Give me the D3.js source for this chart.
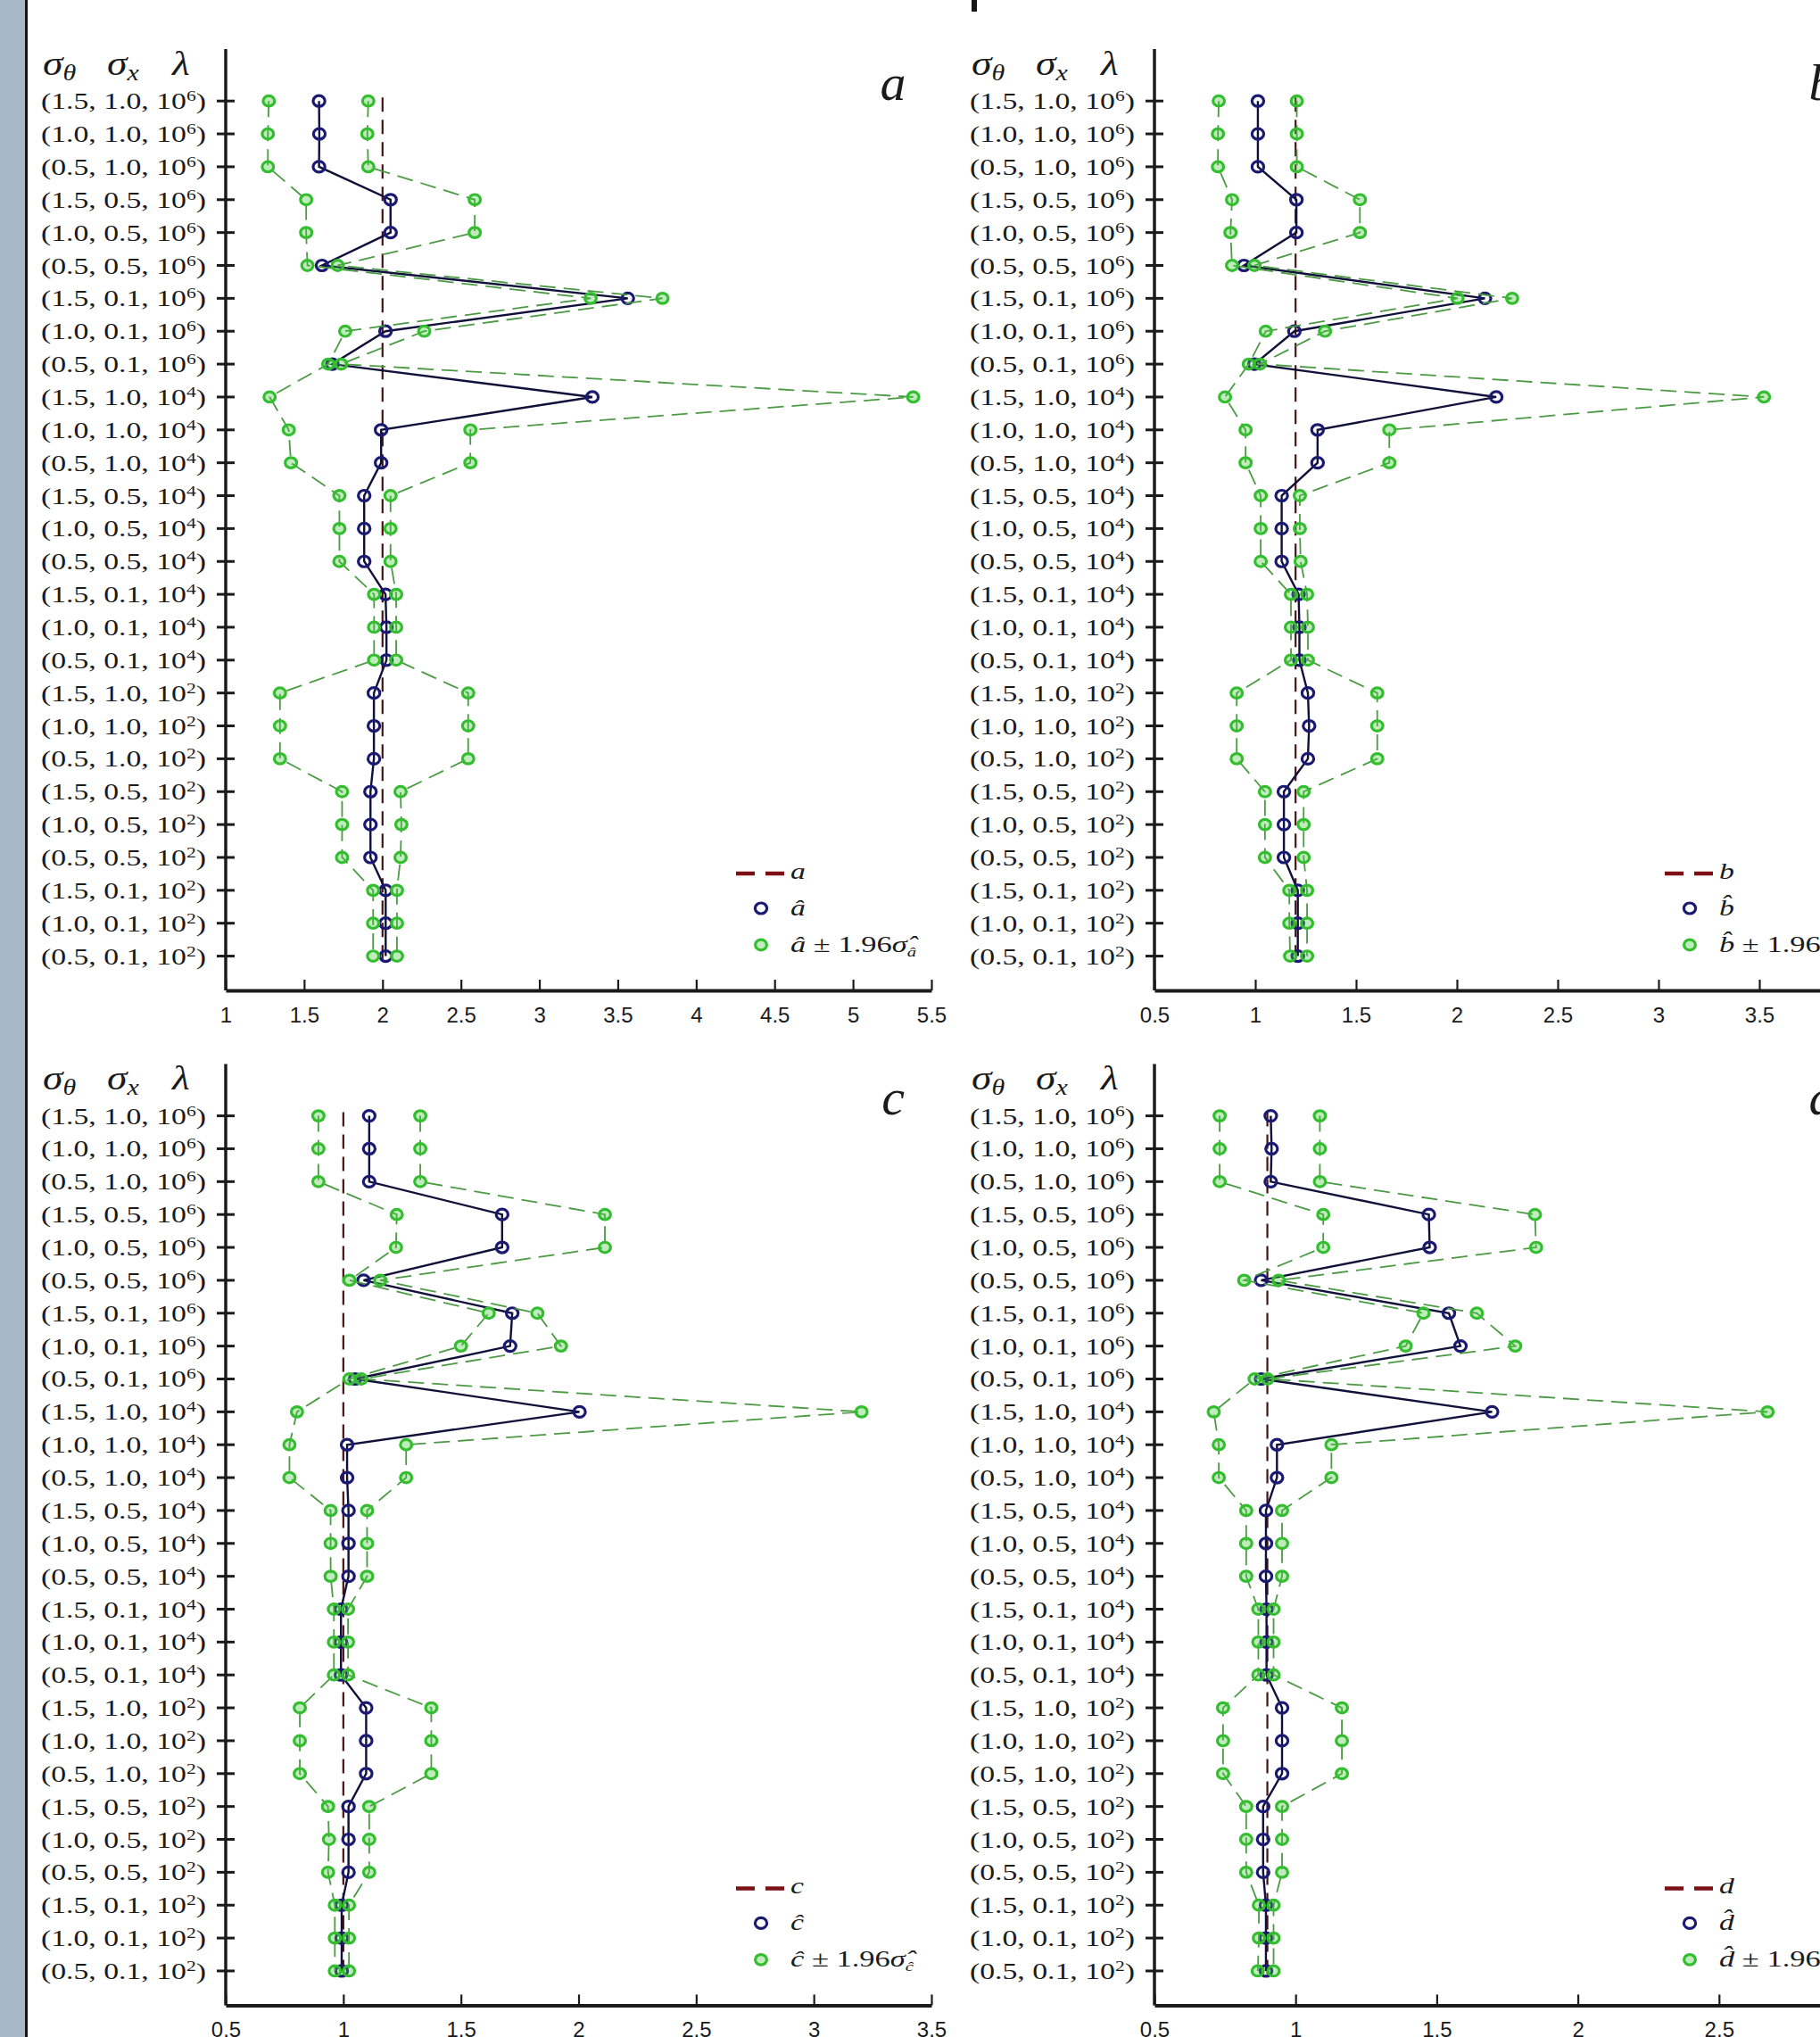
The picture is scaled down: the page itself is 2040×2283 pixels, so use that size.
<!DOCTYPE html>
<html><head><meta charset="utf-8">
<script src="https://cdn.jsdelivr.net/npm/d3@7"></script>
<style>
html,body{margin:0;padding:0;background:#fff;overflow:hidden}
svg{display:block}
</style></head>
<body>
<svg id="chart" width="2040" height="2283"></svg>
<script>
// ---------- categories (rows, top to bottom) ----------
const rowSigmaTheta = ["1.5","1.0","0.5","1.5","1.0","0.5","1.5","1.0","0.5",
                       "1.5","1.0","0.5","1.5","1.0","0.5","1.5","1.0","0.5",
                       "1.5","1.0","0.5","1.5","1.0","0.5","1.5","1.0","0.5"];
const rowSigmaX = ["1.0","1.0","1.0","0.5","0.5","0.5","0.1","0.1","0.1",
                   "1.0","1.0","1.0","0.5","0.5","0.5","0.1","0.1","0.1",
                   "1.0","1.0","1.0","0.5","0.5","0.5","0.1","0.1","0.1"];
const rowLambdaExp = ["6","6","6","6","6","6","6","6","6",
                      "4","4","4","4","4","4","4","4","4",
                      "2","2","2","2","2","2","2","2","2"];

// ---------- panel a ----------
const aTrue = 2;
const aHat  = [1.595,1.597,1.595,2.051,2.051,1.614,3.564,2.019,1.680,3.338,1.991,1.991,1.883,1.883,1.883,2.019,2.025,2.025,1.945,1.945,1.945,1.923,1.923,1.923,2.020,2.020,2.020];
const aLow  = [1.275,1.269,1.269,1.513,1.513,1.521,3.327,1.762,1.654,1.280,1.402,1.416,1.725,1.725,1.725,1.946,1.946,1.946,1.346,1.346,1.346,1.742,1.742,1.742,1.940,1.940,1.940];
const aHigh = [1.909,1.903,1.909,2.588,2.588,1.714,3.785,2.266,1.736,5.384,2.560,2.560,2.051,2.051,2.051,2.087,2.087,2.087,2.546,2.546,2.546,2.115,2.120,2.115,2.092,2.092,2.092];
const aTicks = [1,1.5,2,2.5,3,3.5,4,4.5,5,5.5];

// ---------- panel b ----------
const bTrue = 1.2;
const bHat  = [1.013,1.013,1.013,1.204,1.204,0.944,2.139,1.194,0.996,2.195,1.309,1.309,1.131,1.131,1.131,1.215,1.219,1.219,1.261,1.267,1.261,1.142,1.142,1.142,1.211,1.211,1.211];
const bLow  = [0.819,0.815,0.815,0.885,0.877,0.885,2.003,1.052,0.968,0.850,0.952,0.952,1.027,1.027,1.027,1.177,1.177,1.177,0.908,0.908,0.908,1.048,1.048,1.048,1.169,1.169,1.173];
const bHigh = [1.206,1.206,1.206,1.519,1.519,0.996,2.274,1.346,1.023,3.523,1.665,1.665,1.221,1.221,1.225,1.257,1.261,1.261,1.605,1.605,1.605,1.240,1.240,1.240,1.257,1.257,1.257];
const bTicks = [0.5,1,1.5,2,2.5,3,3.5,4];

// ---------- panel c ----------
const cTrue = 1;
const cHat  = [1.110,1.110,1.110,1.675,1.675,1.086,1.718,1.709,1.050,2.004,1.016,1.016,1.022,1.022,1.022,0.990,0.990,0.990,1.097,1.097,1.097,1.022,1.022,1.022,0.993,0.993,0.993];
const cLow  = [0.894,0.894,0.894,1.227,1.224,1.026,1.618,1.500,1.026,0.803,0.771,0.771,0.946,0.946,0.946,0.960,0.960,0.960,0.815,0.815,0.815,0.935,0.939,0.935,0.964,0.964,0.964];
const cHigh = [1.327,1.327,1.327,2.112,2.112,1.157,1.825,1.925,1.076,3.203,1.267,1.267,1.101,1.101,1.101,1.020,1.020,1.020,1.374,1.374,1.374,1.110,1.110,1.110,1.024,1.024,1.024];
const cTicks = [0.5,1,1.5,2,2.5,3,3.5];

// ---------- panel d ----------
const dTrue = 0.9;
const dHat  = [0.912,0.915,0.912,1.472,1.475,0.878,1.543,1.584,0.878,1.696,0.934,0.934,0.895,0.895,0.895,0.897,0.897,0.897,0.952,0.952,0.952,0.885,0.885,0.885,0.895,0.895,0.895];
const dLow  = [0.731,0.731,0.731,1.098,1.098,0.818,1.453,1.390,0.855,0.710,0.728,0.728,0.825,0.825,0.825,0.868,0.868,0.868,0.743,0.743,0.743,0.825,0.825,0.825,0.870,0.870,0.866];
const dHigh = [1.086,1.086,1.086,1.848,1.852,0.940,1.642,1.778,0.901,2.672,1.127,1.127,0.952,0.952,0.952,0.922,0.922,0.922,1.164,1.164,1.164,0.952,0.952,0.952,0.922,0.922,0.922];
const dTicks = [0.5,1,1.5,2,2.5,3];

const panelSymbols = ["a","b","c","d"];
const panelHats = ["\u00e2","b\u0302","\u0109","d\u0302"];

// ---------- layout / styles ----------
const AXX = [253, 1294], TOPY = [55, 1192.4];
const AW = 791, AH = 1055, ROW0 = 58.2, ROWSTEP = 36.86;
const SERIF = "'Liberation Serif','Times New Roman',serif";
const SANS = "'Liberation Sans',Arial,sans-serif";
const INK = "#1b1b1b";
const NAVY = "#1a1a72", NAVYLINE = "#10103a";
const GREEN = "#33bd2f", GREENLINE = "#4c9a44";
const RED = "#7a1014", REDPLOT = "#4a1212";

const panels = [
  {sym:0, hat:aHat, low:aLow, high:aHigh, truth:aTrue, ticks:aTicks, col:0, row:0},
  {sym:1, hat:bHat, low:bLow, high:bHigh, truth:bTrue, ticks:bTicks, col:1, row:0},
  {sym:2, hat:cHat, low:cLow, high:cHigh, truth:cTrue, ticks:cTicks, col:0, row:1},
  {sym:3, hat:dHat, low:dLow, high:dHigh, truth:dTrue, ticks:dTicks, col:1, row:1}
];

const svg = d3.select("#chart");
svg.append("rect").attr("width",2040).attr("height",2283).attr("fill","#fff");
svg.append("rect").attr("x",0).attr("y",0).attr("width",28).attr("height",2283).attr("fill","#a7b7c7");
svg.append("rect").attr("x",28).attr("y",0).attr("width",3).attr("height",2283).attr("fill","#151515");
svg.append("rect").attr("x",1089).attr("y",0).attr("width",6).attr("height",13).attr("fill","#151515");

panels.forEach(p => {
  const x0 = AXX[p.col], t = TOPY[p.row];
  const g = svg.append("g");
  const x = d3.scaleLinear().domain([p.ticks[0], p.ticks[p.ticks.length-1]]).range([x0, x0 + AW]);
  const y = d3.scaleLinear().domain([0, 26]).range([t + ROW0, t + ROW0 + 26 * ROWSTEP]);
  const rows = d3.range(27);

  // y axis line
  g.append("line").attr("x1",x0).attr("x2",x0).attr("y1",t).attr("y2",t+AH)
    .attr("stroke",INK).attr("stroke-width",3.5);
  // row ticks crossing the axis
  g.selectAll(".rt").data(rows).join("line")
    .attr("x1",x0-10).attr("x2",x0+10)
    .attr("y1",i=>y(i)).attr("y2",i=>y(i))
    .attr("stroke",INK).attr("stroke-width",3);

  // row labels
  g.selectAll(".rl").data(rows).join("text")
    .attr("transform", i => `translate(${x0-22},${y(i)+9}) scale(1.35,1)`)
    .attr("text-anchor","end").attr("font-family",SERIF).attr("font-size",25).attr("fill",INK)
    .each(function(i){
      const s = d3.select(this);
      s.append("tspan").text(`(${rowSigmaTheta[i]}, ${rowSigmaX[i]}, 10`);
      s.append("tspan").attr("font-size",16).attr("dy",-9).text(rowLambdaExp[i]);
      s.append("tspan").attr("dy",9).text(")");
    });

  // header  σθ σx λ
  const hdr = [[x0-205,"\u03c3","\u03b8"],[x0-133,"\u03c3","x"],[x0-60,"\u03bb",""]];
  hdr.forEach(h => {
    const tx = g.append("text").attr("transform",`translate(${h[0]},${t+29}) scale(1.2,1)`)
      .attr("font-family",SERIF).attr("font-style","italic").attr("font-size",38).attr("fill",INK);
    tx.append("tspan").text(h[1]);
    if (h[2]) tx.append("tspan").attr("font-size",25).attr("dy",6).text(h[2]);
  });

  // panel letter
  g.append("text").attr("x",x0+748).attr("y",t+57).attr("text-anchor","middle")
    .attr("font-family",SERIF).attr("font-style","italic").attr("font-size",58).attr("fill",INK)
    .text(panelSymbols[p.sym]);

  // x axis
  const xa = d3.axisBottom(x).tickValues(p.ticks).tickSize(-12).tickSizeOuter(0)
    .tickPadding(19).tickFormat(d => String(d));
  const gx = g.append("g").attr("transform",`translate(0,${t+AH})`).call(xa);
  gx.select(".domain").attr("stroke",INK).attr("stroke-width",4);
  gx.selectAll(".tick line").attr("stroke",INK).attr("stroke-width",2.2);
  gx.selectAll(".tick text").attr("font-family",SANS).attr("font-size",24).attr("fill",INK);

  // true value dashed line
  g.append("line").attr("x1",x(p.truth)).attr("x2",x(p.truth))
    .attr("y1",y(0)-4).attr("y2",y(26)+6)
    .attr("stroke",REDPLOT).attr("stroke-width",2.2).attr("stroke-dasharray","16,9");

  const line = d3.line().x(d => x(d[0])).y(d => y(d[1]));
  const hatPts = p.hat.map((v,i)=>[v,i]);
  const lowPts = p.low.map((v,i)=>[v,i]);
  const highPts = p.high.map((v,i)=>[v,i]);

  // estimate line + markers
  g.append("path").attr("d",line(hatPts)).attr("fill","none")
    .attr("stroke",NAVYLINE).attr("stroke-width",2.4);
  g.selectAll(".hm").data(hatPts).join("ellipse")
    .attr("cx",d=>x(d[0])).attr("cy",d=>y(d[1])).attr("rx",6.6).attr("ry",6)
    .attr("fill","none").attr("stroke",NAVY).attr("stroke-width",3.2);

  // interval lines + markers
  [lowPts, highPts].forEach(pts => {
    g.append("path").attr("d",line(pts)).attr("fill","none")
      .attr("stroke",GREENLINE).attr("stroke-width",1.8).attr("stroke-dasharray","18,9");
  });
  g.selectAll(".gm").data(lowPts.concat(highPts)).join("ellipse")
    .attr("cx",d=>x(d[0])).attr("cy",d=>y(d[1])).attr("rx",6.4).attr("ry",5.8)
    .attr("fill","rgba(70,200,60,0.35)").attr("stroke",GREEN).attr("stroke-width",3.2);

  // legend
  const lx = x0 + 600;
  g.append("line").attr("x1",lx-28).attr("x2",lx+28).attr("y1",t+924).attr("y2",t+924)
    .attr("stroke",RED).attr("stroke-width",4.5).attr("stroke-dasharray","21,12");
  g.append("text").attr("transform",`translate(${lx+33},${t+930}) scale(1.35,1)`)
    .attr("font-family",SERIF).attr("font-style","italic").attr("font-size",25).attr("fill",INK)
    .text(panelSymbols[p.sym]);
  g.append("ellipse").attr("cx",lx).attr("cy",t+963).attr("rx",6.6).attr("ry",6)
    .attr("fill","none").attr("stroke",NAVY).attr("stroke-width",3.2);
  g.append("text").attr("transform",`translate(${lx+33},${t+971}) scale(1.35,1)`)
    .attr("font-family",SERIF).attr("font-style","italic").attr("font-size",25).attr("fill",INK)
    .text(panelHats[p.sym]);
  g.append("ellipse").attr("cx",lx).attr("cy",t+1004).attr("rx",6.4).attr("ry",5.8)
    .attr("fill","rgba(70,200,60,0.35)").attr("stroke",GREEN).attr("stroke-width",3.2);
  const lt = g.append("text").attr("transform",`translate(${lx+33},${t+1012}) scale(1.38,1)`)
    .attr("font-family",SERIF).attr("font-style","italic").attr("font-size",25).attr("fill",INK);
  lt.append("tspan").text(panelHats[p.sym]);
  lt.append("tspan").attr("font-style","normal").text(" \u00b1 1.96");
  lt.append("tspan").text("\u03c3\u0302");
  lt.append("tspan").attr("font-size",15).attr("dy",5).text(panelHats[p.sym]);
});
</script>
</body></html>
